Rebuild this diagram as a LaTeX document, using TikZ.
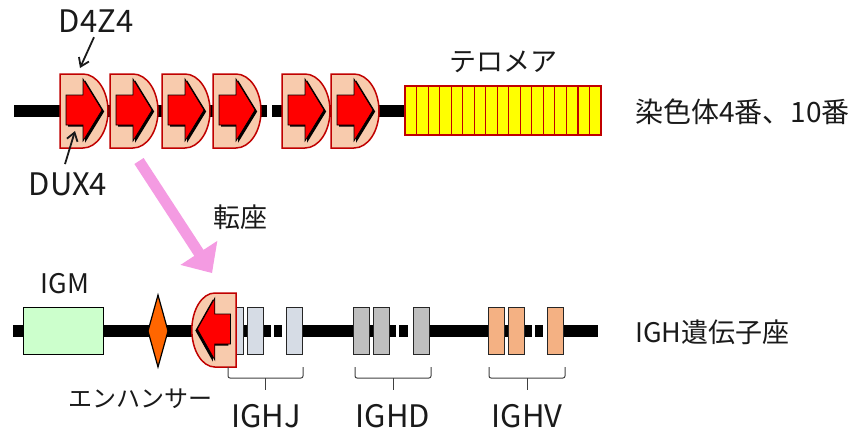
\documentclass[tikz,border=0pt]{standalone}
\usepackage{fontspec}
\setmainfont{Noto Sans CJK JP}
\usetikzlibrary{calc,arrows.meta}
\definecolor{blockfill}{HTML}{F8CBAD}
\definecolor{darkred}{HTML}{C00000}
\definecolor{arrred}{HTML}{FF0000}
\definecolor{telo}{HTML}{FFFF00}
\definecolor{igmc}{HTML}{CCFFCC}
\definecolor{enhc}{HTML}{FF6600}
\definecolor{ighjc}{HTML}{D6DCE5}
\definecolor{ighdc}{HTML}{BFBFBF}
\definecolor{ighvc}{HTML}{F4B183}
\definecolor{pinkc}{HTML}{F49BE2}
\definecolor{txt}{HTML}{1A1A1A}
\definecolor{bracec}{HTML}{404040}
\begin{document}
\begin{tikzpicture}[x=1pt,y=-1pt,
  chrom/.style={line width=12pt, black},
  gene/.style={draw=black!85, line width=1.3pt, minimum width=16pt, minimum height=47pt, inner sep=0pt, anchor=north west},
  lbl/.style={inner sep=0pt, text=txt, font=\fontsize{27}{30}\selectfont},
  latlbl/.style={inner sep=0pt, text=txt, font=\fontsize{31}{34}\selectfont},
  ptr/.style={line width=1.8pt, txt, -{Straight Barb[length=8pt,width=11pt]}},
  bracestyle/.style={draw=bracec, line width=1pt, rounded corners=2pt},
  d4z4/.pic={
    \coordinate (-top) at (20,-6);
    \coordinate (-dux) at (15,57);
    \path[draw=darkred, fill=blockfill, line width=1.5pt] (0,0) -- (23,0) .. controls (36.8,0) and (48,16.6) .. (48,37) .. controls (48,57.4) and (36.8,74) .. (23,74) -- (0,74) -- cycle;
    \fill[black, shift={(2.2,1.5)}] (6,21) -- (23,21) -- (23,5) -- (42,36) -- (23,67) -- (23,51) -- (6,51) -- cycle;
    \draw[fill=arrred, draw=black, line width=0.7pt] (6,21) -- (23,21) -- (23,5) -- (42,36) -- (23,67) -- (23,51) -- (6,51) -- cycle;
  }
]
\useasboundingbox (0,0) rectangle (861,434);

% ---- top chromosome ----
\draw[chrom] (14,111) -- (267,111);
\draw[chrom] (272,111) -- (405,111);
\pic (b1) at (60,74) {d4z4};
\pic (b2) at (110,74) {d4z4};
\pic (b3) at (162,74) {d4z4};
\pic (b4) at (213,74) {d4z4};
\pic (b5) at (282,74) {d4z4};
\pic (b6) at (331,74) {d4z4};
\draw[draw=darkred, fill=telo, line width=1.3pt] (405,86) rectangle (601,135);
\foreach \i in {1,...,16} \draw[darkred, line width=1.1pt] ({405+\i*196/17},86) -- ++(0,49);

\node[lbl, anchor=base] (ltelo) at (503,71) {テロメア};
\node[lbl, anchor=base west, font=\fontsize{28}{31}\selectfont] (lchr) at (635,122) {染色体4番、10番};
\node[latlbl, anchor=base] (lD) at (96,32) {D4Z4};
\node[latlbl, anchor=base] (lDUX) at (68,195) {DUX4};
\draw[ptr] ([shift={(-2,5)}]lD.south) -- (b1-top);
\draw[ptr] ([shift={(-3,-8)}]lDUX.north) -- (b1-dux);

% ---- translocation arrow ----
\coordinate (ptail) at (139,161);
\coordinate (ptip) at (212,273);
\coordinate (pbase) at ($(ptip)!24pt!(ptail)$);
\fill[pinkc] ($(ptail)!5.5pt!90:(ptip)$) -- ($(pbase)!5.5pt!-90:(ptail)$) -- ($(pbase)!22pt!-90:(ptail)$) -- (ptip) -- ($(pbase)!22pt!90:(ptail)$) -- ($(pbase)!5.5pt!90:(ptail)$) -- ($(ptail)!5.5pt!-90:(ptip)$) -- cycle;
\node[lbl, anchor=base] (ltrans) at (240,227) {転座};

% ---- bottom chromosome ----
\draw[chrom] (13,331) -- (271,331);
\draw[chrom] (274,331) -- (282,331);
\draw[chrom] (286,331) -- (396,331);
\draw[chrom] (399,331) -- (408,331);
\draw[chrom] (413,331) -- (532,331);
\draw[chrom] (535,331) -- (543,331);
\draw[chrom] (547,331) -- (598,331);

\node[draw=black, fill=igmc, line width=1.3pt, minimum width=80pt, minimum height=47pt, inner sep=0pt, anchor=north west] (igm) at (23,307) {};
\draw[draw=black, fill=enhc, line width=1.2pt] (158,295) -- (168,331) -- (158,367) -- (148,331) -- cycle;

\node[gene, fill=ighjc] (j1) at (227,307) {};
\node[gene, fill=ighjc] (j2) at (247,307) {};
\node[gene, fill=ighjc] (j3) at (286,307) {};
\node[gene, fill=ighdc] (d1) at (353,307) {};
\node[gene, fill=ighdc] (d2) at (373,307) {};
\node[gene, fill=ighdc] (d3) at (413,307) {};
\node[gene, fill=ighvc] (v1) at (488,307) {};
\node[gene, fill=ighvc] (v2) at (508,307) {};
\node[gene, fill=ighvc] (v3) at (547,307) {};

\pic[xscale=-0.92] (bb) at (236,293) {d4z4};

% braces
\draw[bracestyle] (228,367) -- (228,378) -- (303,378) -- (303,367);
\draw[bracestyle] (265.5,378) -- (265.5,390);
\draw[bracestyle] (355,367) -- (355,378) -- (431,378) -- (431,367);
\draw[bracestyle] (393,378) -- (393,390);
\draw[bracestyle] (489,367) -- (489,378) -- (565,378) -- (565,367);
\draw[bracestyle] (527,378) -- (527,390);

\node[latlbl, anchor=base, font=\fontsize{27}{30}\selectfont] (ligm) at (65,293) {IGM};
\node[lbl, anchor=base, font=\fontsize{24}{28}\selectfont] (lenh) at (140,407) {エンハンサー};
\node[latlbl, anchor=base] (lj) at (266,427) {IGHJ};
\node[latlbl, anchor=base] (ld) at (393,427) {IGHD};
\node[latlbl, anchor=base] (lv) at (527,427) {IGHV};
\node[lbl, anchor=base west] (ligh) at (635,342) {IGH遺伝子座};
\end{tikzpicture}
\end{document}
